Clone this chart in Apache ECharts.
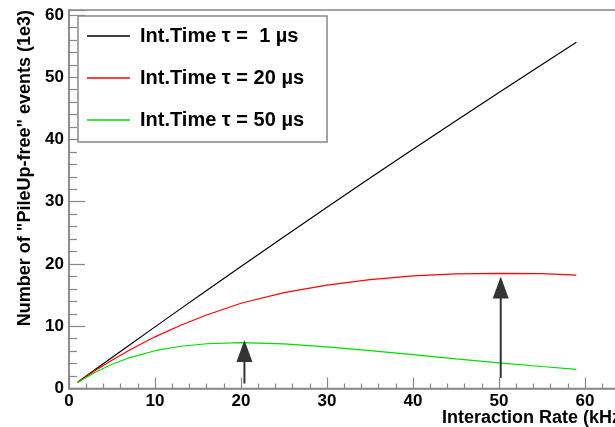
<!DOCTYPE html>
<html>
<head>
<meta charset="utf-8">
<script src="https://cdn.jsdelivr.net/npm/echarts@6/dist/echarts.min.js"></script>
<style>
  html, body { margin: 0; padding: 0; background: #fff; }
  #chart { width: 615px; height: 427px; }
</style>
</head>
<body>
<div id="chart"></div>
<script>
// interaction rate (kHz)
const rates = [1, 3, 5, 7, 10, 13, 16, 20, 25, 30, 35, 40, 45, 50, 55, 59]
// pile-up free events (1e3)
const tau1 = [1.0, 3.0, 4.98, 6.95, 9.9, 12.83, 15.75, 19.6, 24.38, 29.11, 33.8, 38.43, 43.02, 47.56, 52.06, 55.62]
const tau20 = [0.98, 2.84, 4.55, 6.15, 8.3, 10.15, 11.8, 13.7, 15.4, 16.6, 17.5, 18.1, 18.4, 18.5, 18.45, 18.2]
const tau50 = [0.95, 2.58, 3.89, 4.93, 6.07, 6.79, 7.19, 7.36, 7.16, 6.69, 6.08, 5.45, 4.76, 4.12, 3.53, 3.08]
const names = ['Int.Time \u03C4 =  1 \u00B5s', 'Int.Time \u03C4 = 20 \u00B5s', 'Int.Time \u03C4 = 50 \u00B5s']
// arrows marking the maxima
const arrowX = [20.4, 50.2]
const arrowFrom = [0.8, 1.7]
const arrowTo = [7.8, 18.0]

const font = '"Liberation Sans", Arial, Helvetica, sans-serif'
const axisGray = '#888'

function pairs(ys) {
  return rates.map((x, i) => [x, ys[i]])
}

function lineSeries(name, ys, color) {
  return {
    name: name,
    type: 'line',
    data: pairs(ys),
    symbol: 'none',
    smooth: false,
    lineStyle: { color: color, width: 1.2 },
    itemStyle: { color: color },
    z: 3
  }
}

let myChart = echarts.init(document.getElementById('chart'))
let option = {
  animation: false,
  backgroundColor: '#fff',
  grid: {
    left: 69,
    top: 10,
    bottom: 38.5,
    width: 567.6,
    outerBoundsMode: 'none',
    containLabel: false,
    show: true,
    borderColor: axisGray,
    borderWidth: 1.5
  },
  legend: {
    data: names,
    orient: 'vertical',
    left: 78,
    top: 16,
    icon: 'rect',
    itemWidth: 43,
    itemHeight: 1.3,
    itemGap: 22,
    padding: [10, 23, 12, 9],
    borderColor: axisGray,
    borderWidth: 1.5,
    borderRadius: 0,
    backgroundColor: '#fff',
    textStyle: {
      fontFamily: font,
      fontWeight: 'bold',
      fontSize: 20,
      color: '#000',
      padding: [0, 0, 0, 5]
    }
  },
  xAxis: {
    type: 'value',
    min: 0,
    max: 66,
    interval: 10,
    splitLine: { show: false },
    axisLine: { onZero: false, lineStyle: { color: axisGray, width: 1.5 } },
    axisTick: { inside: true, length: 11, lineStyle: { color: axisGray, width: 1.2 } },
    minorTick: { show: true, splitNumber: 5, length: 5, lineStyle: { color: axisGray, width: 1.2 } },
    axisLabel: {
      margin: 4,
      fontFamily: font,
      fontWeight: 'bold',
      fontSize: 17,
      color: '#000',
      showMaxLabel: false
    }
  },
  yAxis: {
    type: 'value',
    min: 0,
    max: 60.8,
    interval: 10,
    splitLine: { show: false },
    axisLine: { onZero: false, lineStyle: { color: axisGray, width: 1.5 } },
    axisTick: { inside: true, length: 16, lineStyle: { color: axisGray, width: 1.2 } },
    minorTick: { show: true, splitNumber: 5, length: 8, lineStyle: { color: axisGray, width: 1.2 } },
    axisLabel: {
      margin: 5,
      fontFamily: font,
      fontWeight: 'bold',
      fontSize: 17,
      color: '#000',
      showMaxLabel: false
    }
  },
  graphic: [
    {
      type: 'text',
      x: 25,
      y: 10,
      rotation: Math.PI / 2,
      style: {
        text: 'Number of "PileUp-free" events (1e3)',
        fontFamily: font,
        fontWeight: 'bold',
        fontSize: 18,
        fill: '#000',
        align: 'right',
        verticalAlign: 'middle'
      }
    },
    {
      type: 'text',
      x: 442,
      y: 418,
      style: {
        text: 'Interaction Rate (kHz)',
        fontFamily: font,
        fontWeight: 'bold',
        fontSize: 18,
        fill: '#000',
        align: 'left',
        verticalAlign: 'middle'
      }
    }
  ],
  series: [
    lineSeries(names[0], tau1, '#000'),
    lineSeries(names[1], tau20, '#ff0000'),
    lineSeries(names[2], tau50, '#00dd00'),
    {
      name: 'arrows',
      type: 'custom',
      coordinateSystem: 'cartesian2d',
      data: arrowX.map((x, i) => [x, arrowFrom[i], arrowTo[i]]),
      encode: { x: 0, y: [1, 2] },
      z: 4,
      renderItem: function (params, api) {
        let p0 = api.coord([api.value(0), api.value(1)])
        let p1 = api.coord([api.value(0), api.value(2)])
        let headH = 22
        let headW = 16
        return {
          type: 'group',
          children: [
            {
              type: 'line',
              shape: { x1: p0[0], y1: p0[1], x2: p1[0], y2: p1[1] + headH - 2 },
              style: { stroke: '#333', lineWidth: 2 }
            },
            {
              type: 'polygon',
              shape: {
                points: [
                  [p1[0], p1[1]],
                  [p1[0] - headW / 2, p1[1] + headH],
                  [p1[0] + headW / 2, p1[1] + headH]
                ]
              },
              style: { fill: '#333' }
            }
          ]
        }
      }
    }
  ]
}
myChart.setOption(option)
window.addEventListener('resize', function () {
  myChart.resize()
})
</script>
</body>
</html>
